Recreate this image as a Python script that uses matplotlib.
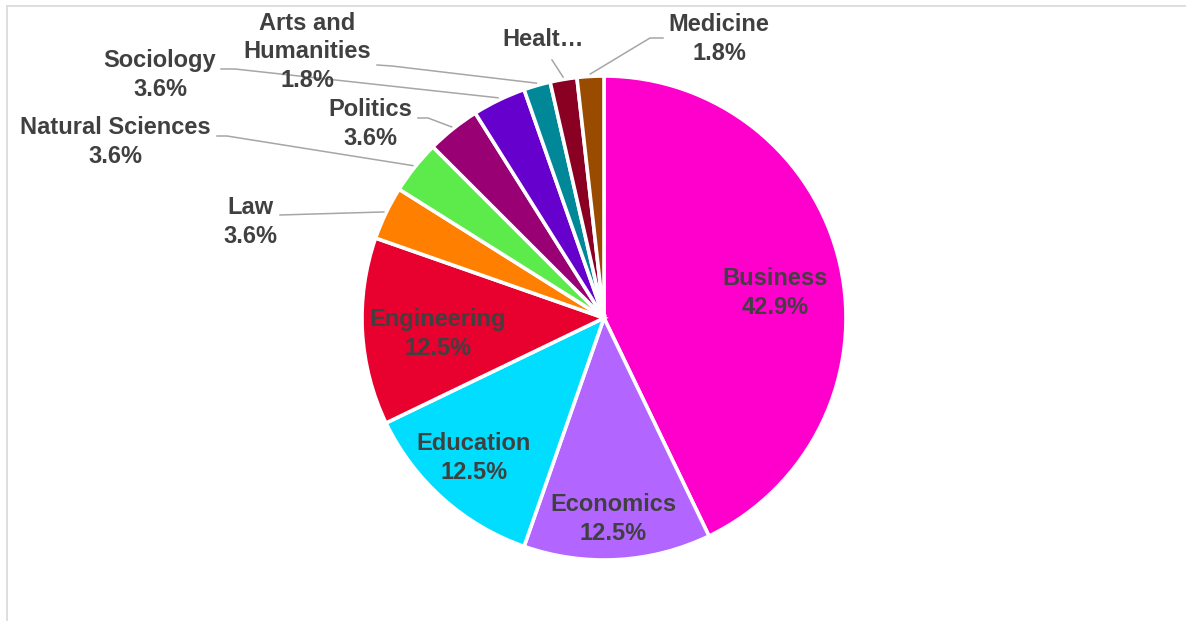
import numpy as np
import matplotlib.pyplot as plt
from matplotlib.lines import Line2D

W, H = 1186, 621

fields = ['Business', 'Economics', 'Education', 'Engineering', 'Law',
          'Natural Sciences', 'Politics', 'Sociology', 'Arts and Humanities',
          'Health', 'Medicine']
counts = [24, 7, 7, 7, 2, 2, 2, 2, 1, 1, 1]
shown = ['Business', 'Economics', 'Education', 'Engineering', 'Law',
         'Natural Sciences', 'Politics', 'Sociology', 'Arts and\nHumanities',
         'Healt…', 'Medicine']
colors = ['#FF00CC', '#B266FF', '#00DDFF', '#E8002E', '#FF8000', '#5CEB4B',
          '#990073', '#6600CC', '#008899', '#8A0022', '#994C00']

# label centres in pixel coords (x, y from top)
lab_pos = [(775, 293), (613, 519), (474, 458), (438, 334), (250, 222),
           (115, 142), (370, 124), (160, 75), (307, 52), (543, 40), (719, 39)]
# leader line start points (None = label sits on slice)
lead = [None, None, None, None, [(280, 215)],
        [(217, 136), (227, 136)], [(418, 118), (428, 118)],
        [(221, 69), (235, 69)], [(377, 65), (392, 66)],
        [(552, 60)], [(663, 38), (650, 38)]]

cx, cy, R = 604, 318, 242


def py(y):
    return H - y


fig = plt.figure(figsize=(W / 100, H / 100), dpi=100)
ax = fig.add_axes([0, 0, 1, 1])
total = sum(counts)
wedges, _ = ax.pie(counts, colors=colors, startangle=90, counterclock=False,
                   center=(cx, py(cy)), radius=R,
                   wedgeprops=dict(edgecolor='white', linewidth=2.6))
ax.set_xlim(0, W)
ax.set_ylim(0, H)
ax.set_aspect('equal')
ax.axis('off')

for i, w in enumerate(wedges):
    pct = counts[i] / total * 100
    txt = shown[i] if shown[i].endswith('…') else f"{shown[i]}\n{pct:.1f}%"
    x, y = lab_pos[i]
    ax.text(x, py(y), txt, ha='center', va='center', fontsize=17,
            fontweight='bold', family='Liberation Sans', color='#404040',
            linespacing=1.32)
    if lead[i] is not None:
        ang = np.deg2rad((w.theta1 + w.theta2) / 2)
        ex = cx + R * 1.01 * np.cos(ang)
        ey = py(cy) + R * 1.01 * np.sin(ang)
        xs = [p[0] for p in lead[i]] + [ex]
        ys = [py(p[1]) for p in lead[i]] + [ey]
        ax.plot(xs, ys, color='#A6A6A6', lw=1.1)

# chart border (only top and left visible)
fig.add_artist(Line2D([6.5 / W, 6.5 / W], [0, 1 - 6 / H], color='#D9D9D9',
                      lw=1.2, transform=fig.transFigure))
fig.add_artist(Line2D([6.5 / W, 1], [1 - 6 / H, 1 - 6 / H], color='#D9D9D9',
                      lw=1.2, transform=fig.transFigure))

fig.savefig('out.png', dpi=100, facecolor='white')
